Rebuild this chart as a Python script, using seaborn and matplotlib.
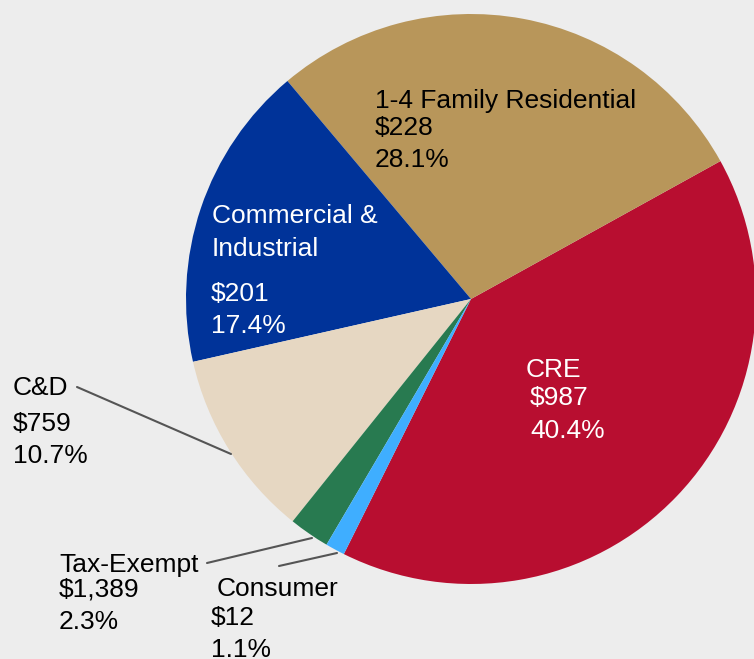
import matplotlib
matplotlib.use("Agg")
import matplotlib.pyplot as plt
import seaborn as sns

# Loan portfolio composition (order: counter-clockwise from the bottom)
segments = ["CRE", "1-4 Family Residential", "Commercial & Industrial",
            "C&D", "Tax-Exempt", "Consumer"]
shares = [40.4, 28.1, 17.4, 10.7, 2.3, 1.1]
amounts = ["$987", "$228", "$201", "$759", "$1,389", "$12"]
colors = ["#B80E30", "#B8965A", "#003399", "#E6D7C2", "#287A50", "#3FAEFF"]

sns.set_theme(style="white")
plt.rcParams["font.family"] = ["Liberation Sans", "DejaVu Sans"]

W, H = 754, 659
fig = plt.figure(figsize=(W / 100, H / 100), dpi=100)
fig.patch.set_facecolor("#EDEDED")

# pie centre and radius in pixels
cx, cy, r = 471, 299, 285
ax = fig.add_axes([(cx - r) / W, (H - cy - r) / H, 2 * r / W, 2 * r / H])
ax.pie(shares, colors=colors, startangle=-116.5, counterclock=True,
       wedgeprops=dict(linewidth=0))
ax.set_xlim(-1, 1)
ax.set_ylim(-1, 1)
ax.axis("off")


def put(txt, x, y, color="black"):
    fig.text(x / W, 1 - y / H, txt, fontsize=19, color=color,
             ha="left", va="baseline")


def leader(x0, y0, x1, y1):
    fig.add_artist(plt.Line2D([x0 / W, x1 / W], [1 - y0 / H, 1 - y1 / H],
                              color="#555555", lw=1.5))


# CRE
put(segments[0], 526, 377, "white")
put(amounts[0], 530, 405, "white")
put(f"{shares[0]:.1f}%", 530, 438, "white")

# 1-4 Family Residential
put(segments[1], 375, 108)
put(amounts[1], 375, 135)
put(f"{shares[1]:.1f}%", 375, 167)

# Commercial & Industrial
put("Commercial &", 212, 223, "white")
put("Industrial", 212, 256, "white")
put(amounts[2], 211, 301, "white")
put(f"{shares[2]:.1f}%", 211, 333, "white")

# C&D
put(segments[3], 13, 395)
put(amounts[3], 13, 431)
put(f"{shares[3]:.1f}%", 13, 463)
leader(77, 387, 231, 454)

# Tax-Exempt
put(segments[4], 59, 572)
put(amounts[4], 59, 597)
put(f"{shares[4]:.1f}%", 59, 629)
leader(207, 563, 312, 538)

# Consumer
put(segments[5], 217, 596)
put(amounts[5], 211, 625)
put(f"{shares[5]:.1f}%", 211, 657)
leader(279, 566, 337, 553)

fig.savefig("out.png", dpi=100, facecolor=fig.get_facecolor())
